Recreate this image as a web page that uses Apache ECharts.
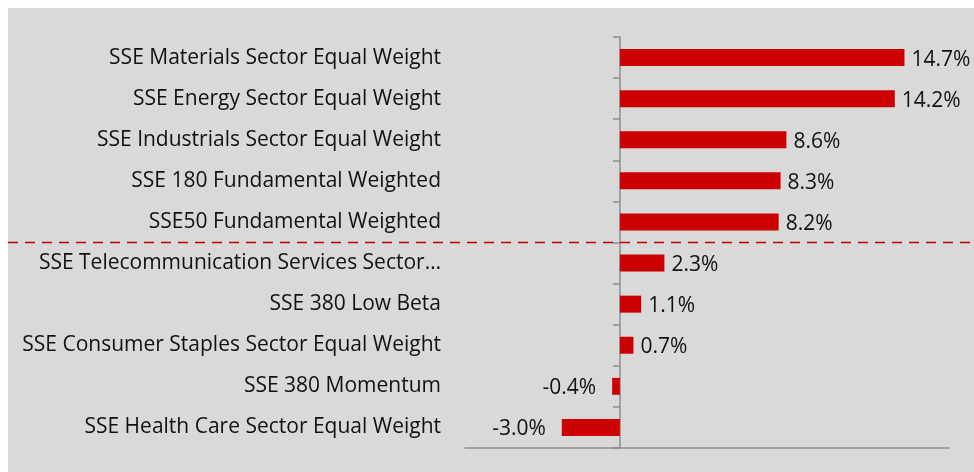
<html>

<head>
    <meta charset="utf-8">
    <script src="https://cdn.jsdelivr.net/npm/echarts@6/dist/echarts.min.js"></script>
    <style>
        body { margin: 8px 0 0 8px; background: #fff; }
        #main { width: 966px; height: 464px; background: #d9d9d9; }
    </style>
</head>

<body>
    <div id="main"></div>

    <script>
        var categories = [
            'SSE Materials Sector Equal Weight',
            'SSE Energy Sector Equal Weight',
            'SSE Industrials Sector Equal Weight',
            'SSE 180 Fundamental Weighted',
            'SSE50 Fundamental Weighted',
            'SSE Telecommunication Services Sector\u2026',
            'SSE 380 Low Beta',
            'SSE Consumer Staples Sector Equal Weight',
            'SSE 380 Momentum',
            'SSE Health Care Sector Equal Weight'
        ];
        var values = [14.7, 14.2, 8.6, 8.3, 8.2, 2.3, 1.1, 0.7, -0.4, -3.0];
        // dashed separator goes after this many top rows
        var splitAfter = 5;

        var font = '"Open Sans", sans-serif';
        var chart = echarts.init(document.getElementById('main'));

        var option = {
            animation: false,
            backgroundColor: '#d9d9d9',
            grid: { left: 457, right: 25, top: 29, bottom: 24, outerBoundsMode: 'none' },
            xAxis: {
                type: 'value',
                min: -8,
                max: 17,
                interval: 1,
                axisLine: { show: true, lineStyle: { color: '#8c8c8c', width: 1.5 } },
                axisTick: { show: false },
                axisLabel: { show: false },
                splitLine: { show: false }
            },
            yAxis: {
                type: 'category',
                inverse: true,
                data: categories,
                axisLine: { onZero: true, lineStyle: { color: '#8c8c8c', width: 1.5 } },
                axisTick: { show: true, length: 7, lineStyle: { color: '#8c8c8c', width: 1.5 } },
                axisLabel: {
                    margin: 24,
                    color: '#111',
                    fontFamily: font,
                    fontSize: 21,
                    padding: [4, 0, 0, 0]
                }
            },
            series: [{
                type: 'bar',
                barWidth: 17,
                itemStyle: { color: '#cc0000' },
                label: {
                    show: true,
                    color: '#111',
                    fontFamily: font,
                    fontSize: 21,
                    offset: [0, 2],
                    formatter: function (p) { return p.value.toFixed(1) + '%'; }
                },
                data: values.map(function (v) {
                    return {
                        value: v,
                        label: { position: v < 0 ? 'left' : 'right', distance: v < 0 ? 16 : 7 }
                    };
                })
            }]
        };
        chart.setOption(option);

        // separator line between row splitAfter-1 and splitAfter, from the axis scale
        var yA = chart.convertToPixel({ yAxisIndex: 0 }, categories[splitAfter - 1]);
        var yB = chart.convertToPixel({ yAxisIndex: 0 }, categories[splitAfter]);
        var ySep = (yA + yB) / 2;
        chart.setOption({
            graphic: [{
                type: 'line',
                shape: { x1: 0, y1: ySep, x2: chart.getWidth(), y2: ySep },
                style: { stroke: '#c00000', lineWidth: 1.5, lineDash: [10, 7] },
                z: 10
            }]
        });

        window.onresize = function () {
            chart.resize();
        }
    </script>
</body>

</html>
